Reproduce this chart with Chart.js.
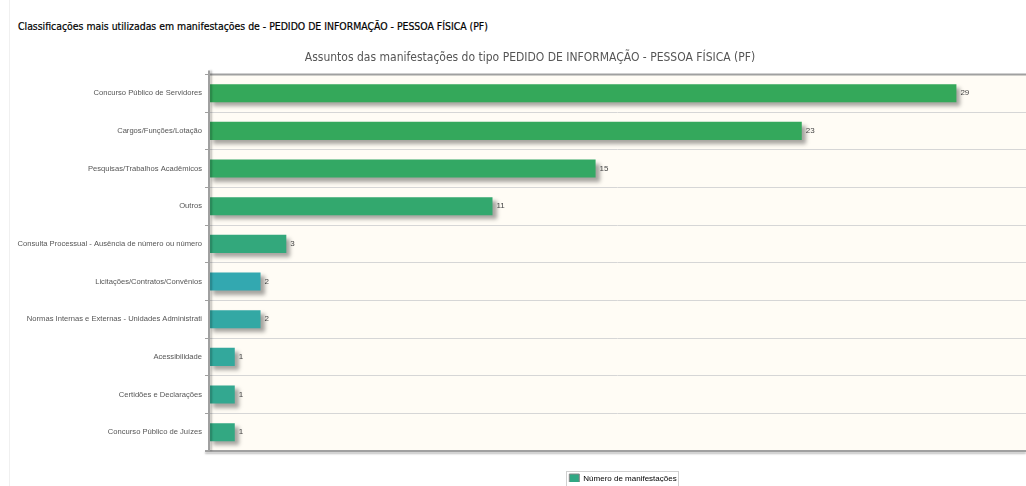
<!DOCTYPE html>
<html>
<head>
<meta charset="utf-8">
<script src="https://cdn.jsdelivr.net/npm/chart.js@4.4.1/dist/chart.umd.min.js"></script>
<style>
  html, body { margin: 0; padding: 0; background: #fff; }
  #wrap { position: relative; width: 1026px; height: 486px; overflow: hidden; }
  #panel { position: absolute; left: 9px; top: 0; width: 1px; height: 486px; background: #f0f0f0; }
  #header {
    position: absolute; left: 18px; top: 20px;
    font-family: "DejaVu Sans Condensed", sans-serif;
    font-size: 10.4px; color: #000; white-space: nowrap;
    -webkit-text-stroke: 0.2px #000;
  }
  #chart { position: absolute; left: 0; top: 0; }
</style>
</head>
<body>
<div id="wrap">
  <div id="panel"></div>
  <div id="header">Classificações mais utilizadas em manifestações de - PEDIDO DE INFORMAÇÃO - PESSOA FÍSICA (PF)</div>
  <canvas id="chart" width="1026" height="486"></canvas>
</div>
<script>
const chartTitle = "Assuntos das manifestações do tipo PEDIDO DE INFORMAÇÃO - PESSOA FÍSICA (PF)";
const seriesName = "Número de manifestações";

const categories = [
  "Concurso Público de Servidores",
  "Cargos/Funções/Lotação",
  "Pesquisas/Trabalhos Acadêmicos",
  "Outros",
  "Consulta Processual - Ausência de número ou número",
  "Licitações/Contratos/Convênios",
  "Normas Internas e Externas - Unidades Administrati",
  "Acessibilidade",
  "Certidões e Declarações",
  "Concurso Público de Juízes",
];
const counts = [29, 23, 15, 11, 3, 2, 2, 1, 1, 1];
const barColors = [
  "#34a85a", "#34a85c", "#33a864", "#33a86e", "#33a87c",
  "#33a8b0", "#33a8a4", "#33a89c", "#33a890", "#33a882",
];
const legendColor = "#31a884";

const labelFont = "Liberation Sans";

// drop shadow under the bars
const barShadow = {
  id: "barShadow",
  beforeDatasetDraw(chart) {
    const ctx = chart.ctx;
    ctx.save();
    ctx.shadowColor = "rgba(0,0,0,0.35)";
    ctx.shadowOffsetX = 4;
    ctx.shadowOffsetY = 4;
    ctx.shadowBlur = 4;
  },
  afterDatasetDraw(chart) {
    chart.ctx.restore();
  },
};

// plot background + frame lines
const plotFrame = {
  id: "plotFrame",
  beforeDraw(chart) {
    const { ctx, chartArea: a } = chart;
    ctx.save();
    ctx.fillStyle = "#fffcf5";
    ctx.fillRect(a.left, a.top, a.right - a.left, a.bottom - a.top);
    ctx.restore();
  },
  afterDraw(chart) {
    const { ctx, chartArea: a } = chart;
    ctx.save();
    ctx.strokeStyle = "#a0a0a0";
    ctx.lineWidth = 2;
    ctx.beginPath();
    ctx.moveTo(a.left, a.top);
    ctx.lineTo(a.right, a.top);
    ctx.stroke();
    ctx.shadowColor = "rgba(0,0,0,0.25)";
    ctx.shadowOffsetY = 2;
    ctx.shadowBlur = 2;
    ctx.beginPath();
    ctx.moveTo(a.left - 4, a.bottom);
    ctx.lineTo(a.right, a.bottom);
    ctx.stroke();
    ctx.shadowOffsetY = 0;
    ctx.shadowOffsetX = 2;
    ctx.beginPath();
    ctx.moveTo(a.left, a.top - 4);
    ctx.lineTo(a.left, a.bottom);
    ctx.stroke();
    ctx.restore();
  },
};

// value text at the end of each bar
const valueLabels = {
  id: "valueLabels",
  afterDatasetsDraw(chart) {
    const ctx = chart.ctx;
    const meta = chart.getDatasetMeta(0);
    ctx.save();
    ctx.font = "8px " + labelFont;
    ctx.fillStyle = "#444";
    ctx.textAlign = "left";
    ctx.textBaseline = "middle";
    meta.data.forEach((bar, i) => {
      ctx.fillText(String(counts[i]), bar.x + 4, bar.y);
    });
    ctx.restore();
  },
};

// the original centres the title a bit right of the page centre
// and the legend under the (wider than page) plot area
const placeBoxes = {
  id: "placeBoxes",
  beforeLayout(chart) {
    const lg = chart.legend;
    if (!lg || lg._patched) return;
    const fit = lg.fit;
    lg.fit = function () {
      fit.call(this);
      this.height = 31;
    };
    lg._patched = true;
  },
  afterLayout(chart) {
    const tb = chart.titleBlock;
    if (tb) {
      tb.left = 34;
      tb.right = 1026;
      tb.width = tb.right - tb.left;
    }
    const lg = chart.legend;
    if (lg) {
      lg.left = chart.chartArea.left;
      lg.right = 1037;
      lg.width = lg.right - lg.left;
    }
  },
  afterDraw(chart) {
    const lg = chart.legend;
    if (!lg) return;
    const ctx = chart.ctx;
    ctx.save();
    ctx.font = "8px " + labelFont;
    const w = 10 + 4 + ctx.measureText(seriesName).width;
    const cx = (lg.left + lg.right) / 2;
    const top = lg.top + 23;
    ctx.strokeStyle = "#d0d0d0";
    ctx.lineWidth = 1;
    ctx.strokeRect(Math.round(cx - w / 2) - 2.5, Math.round(top) - 2.5, Math.round(w) + 5, 15);
    ctx.restore();
  },
};

new Chart(document.getElementById("chart"), {
  type: "bar",
  data: {
    labels: categories,
    datasets: [{
      label: seriesName,
      data: counts,
      backgroundColor: barColors,
      borderWidth: 0,
      barPercentage: 0.48,
      categoryPercentage: 1,
    }],
  },
  options: {
    indexAxis: "y",
    responsive: false,
    animation: false,
    layout: { padding: { top: 51, right: 0, bottom: 4, left: 0 } },
    scales: {
      x: {
        display: false,
        min: 0,
        max: 31.7,
      },
      y: {
        afterFit: (s) => { s.width = 209; },
        border: { display: false },
        grid: {
          color: "#d6d6d6",
          tickLength: 4,
          tickColor: "#a0a0a0",
          offset: true,
        },
        ticks: {
          color: "#555",
          padding: 3,
          font: { family: labelFont, size: 7.6 },
        },
      },
    },
    plugins: {
      title: {
        display: true,
        text: chartTitle,
        color: "#555",
        font: { family: "DejaVu Sans Condensed", size: 12, weight: "normal" },
        padding: { top: 0, bottom: 9 },
      },
      legend: {
        position: "bottom",
        labels: {
          boxWidth: 10,
          boxHeight: 10,
          padding: 23,
          color: "#444",
          font: { family: labelFont, size: 8 },
          generateLabels: () => [{
            text: seriesName,
            fillStyle: legendColor,
            strokeStyle: "#888",
            lineWidth: 1,
            datasetIndex: 0,
          }],
        },
      },
      tooltip: { enabled: false },
    },
  },
  plugins: [plotFrame, barShadow, valueLabels, placeBoxes],
});
</script>
</body>
</html>
